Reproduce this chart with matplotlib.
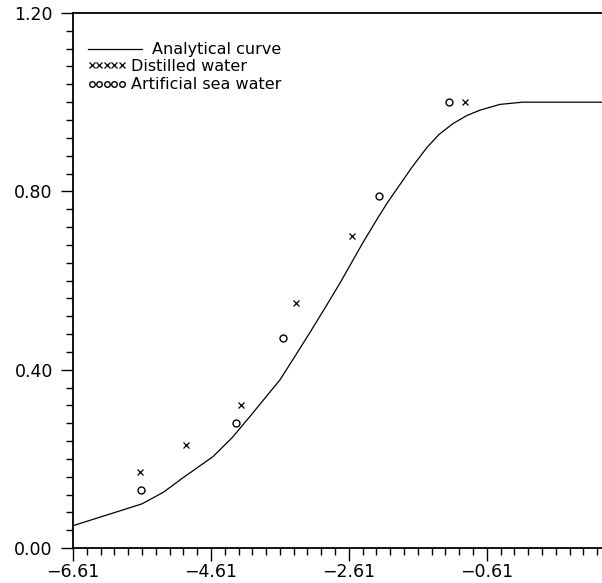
import matplotlib
matplotlib.use("Agg")
import matplotlib.pyplot as plt
from matplotlib.ticker import FixedLocator, FuncFormatter
import numpy as np

# ---- data ----
curve_x = [-6.61, -6.10, -5.61, -5.30, -5.02, -4.58, -4.30, -4.05, -3.61, -3.40,
           -3.18, -2.95, -2.74, -2.41, -2.20, -2.05, -1.87, -1.70, -1.48, -1.30,
           -1.10, -0.90, -0.71, -0.42, -0.09, 1.10]
curve_y = [0.050, 0.075, 0.099, 0.125, 0.157, 0.205, 0.248, 0.294, 0.377, 0.428,
           0.482, 0.540, 0.594, 0.684, 0.738, 0.775, 0.815, 0.853, 0.898, 0.928,
           0.952, 0.970, 0.982, 0.995, 1.000, 1.000]

distilled_x = [-5.64, -4.97, -4.17, -3.37, -2.56, -0.92]
distilled_y = [0.17, 0.23, 0.32, 0.55, 0.70, 1.00]

sea_x = [-5.63, -4.25, -3.56, -2.18, -1.16]
sea_y = [0.13, 0.28, 0.47, 0.79, 1.00]

xticks = [-6.61, -4.61, -2.61, -0.61]
yticks = [0.00, 0.40, 0.80, 1.20]

labels = ["Analytical curve", "Distilled water", "Artificial sea water"]

# ---- figure ----
fig = plt.figure(figsize=(6.02, 5.83), dpi=100)
ax = fig.add_axes([73/602, 35/583, 1 - 73/602, (548-13)/583])

l1, = ax.plot(curve_x, curve_y, color="black", lw=0.9, label=labels[0])
l2, = ax.plot(distilled_x, distilled_y, ls="none", marker="x", ms=5, mew=0.9,
              color="black", label=labels[1])
l3, = ax.plot(sea_x, sea_y, ls="none", marker="o", ms=5, mew=1.0,
              mfc="none", mec="black", label=labels[2])

ax.set_xlim(-6.61, 1.06)
ax.set_ylim(0.0, 1.20)

fmt = FuncFormatter(lambda v, p: f"{v:.2f}".replace("-", "\u2212"))
ax.xaxis.set_major_locator(FixedLocator(xticks))
ax.xaxis.set_minor_locator(FixedLocator(np.arange(-6.61, 1.06, 0.2)))
ax.yaxis.set_major_locator(FixedLocator(yticks))
ax.yaxis.set_minor_locator(FixedLocator(np.arange(0.0, 1.2001, 0.04)))
ax.xaxis.set_major_formatter(fmt)
ax.yaxis.set_major_formatter(fmt)

ax.tick_params(axis="both", which="major", length=9, width=1.0, direction="out",
               labelsize=12.5, color="black")
ax.tick_params(axis="both", which="minor", length=5, width=1.0, direction="out")
ax.tick_params(axis="y", which="major", pad=5.5)
ax.tick_params(axis="x", which="major", pad=2)

for s in ["left", "bottom", "top"]:
    ax.spines[s].set_linewidth(1.3)
ax.spines["right"].set_visible(False)

leg1 = ax.legend(handles=[l1], loc="upper left", bbox_to_anchor=(0.028, 0.945),
                 frameon=False, fontsize=11.5, handlelength=3.4, handletextpad=0.6,
                 borderpad=0.0, borderaxespad=0.0)
ax.add_artist(leg1)
ax.legend(handles=[l2, l3], loc="upper left", bbox_to_anchor=(0.026, 0.914),
          frameon=False, fontsize=11.5, handlelength=2.5, handletextpad=0.25,
          numpoints=5, markerscale=0.8, labelspacing=0.2,
          borderpad=0.0, borderaxespad=0.0)

fig.savefig("out.png", dpi=100)
